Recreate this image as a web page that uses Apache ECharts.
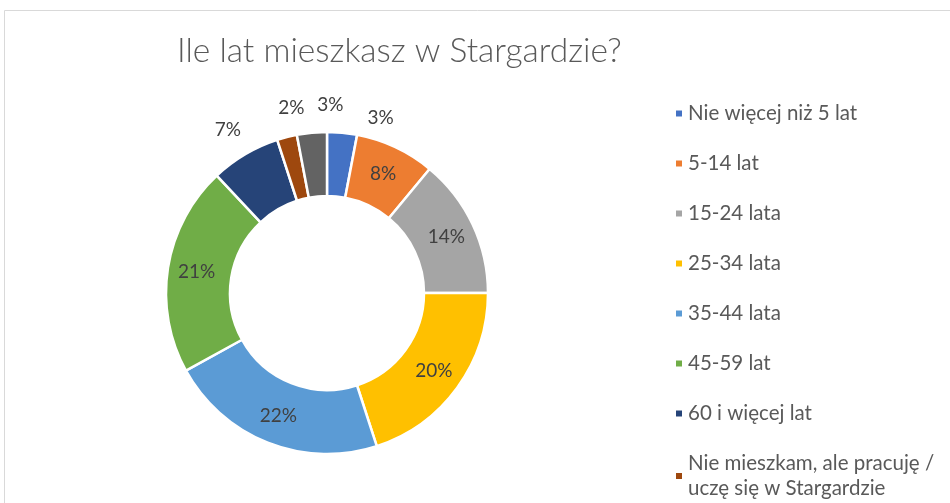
<!DOCTYPE html>
<html>
<head>
<meta charset="utf-8">
<script src="https://cdn.jsdelivr.net/npm/echarts@6/dist/echarts.min.js"></script>
<style>
  html, body { margin: 0; padding: 0; background: #fff; }
  #chart { width: 950px; height: 503px; }
</style>
</head>
<body>
<div id="chart"></div>
<script>
// dane z wykresu
const categories = [
  "Nie więcej niż 5 lat",
  "5-14 lat",
  "15-24 lata",
  "25-34 lata",
  "35-44 lata",
  "45-59 lat",
  "60 i więcej lat",
  "Nie mieszkam, ale pracuję / uczę się w Stargardzie",
  "Inne"
];
const values = [3, 8, 14, 20, 22, 21, 7, 2, 3];
const colors = ["#4472C4", "#ED7D31", "#A5A5A5", "#FFC000", "#5B9BD5", "#70AD47", "#264478", "#9E480E", "#636363"];
// małe wycinki mają etykiety na zewnątrz
const outsideIdx = [0, 6, 7, 8];
// przesunięcia etykiet zewnętrznych (jak w Excelu)
const labelShift = { 0: [19, -1], 6: [8, -12], 7: [26, -16], 8: [38, -14] };

const chart = echarts.init(document.getElementById("chart"), null, { renderer: "canvas" });

const data = categories.map((name, i) => ({
  name: name,
  value: values[i],
  itemStyle: { color: colors[i] },
  label: outsideIdx.includes(i) ? { position: "outside" } : { position: "inside" }
}));

chart.setOption({
  animation: false,
  title: {
    text: "Ile lat mieszkasz w Stargardzie?",
    left: 172,
    top: 29,
    textStyle: { fontFamily: "Lato", fontWeight: 300, fontSize: 33.5, color: "#595959" }
  },
  graphic: [{
    type: "rect",
    shape: { x: 4.5, y: 10.5, width: 1000, height: 600 },
    style: { fill: "none", stroke: "#d9d9d9", lineWidth: 1 },
    silent: true
  }],
  legend: {
    orient: "vertical",
    left: 669,
    top: 96,
    height: 600,
    data: categories.slice(0, 8),
    icon: "rect",
    itemWidth: 8,
    itemHeight: 8,
    itemGap: 25,
    formatter: n => n.replace(" / ", " /\n"),
    textStyle: { fontFamily: "Lato", fontSize: 20.5, color: "#595959", lineHeight: 25 }
  },
  series: [{
    type: "pie",
    center: [327, 293],
    radius: [97, 161],
    startAngle: 90,
    clockwise: true,
    avoidLabelOverlap: false,
    data: data,
    itemStyle: { borderColor: "#fff", borderWidth: 2.5 },
    label: {
      formatter: "{d}%",
      fontFamily: "Lato",
      fontSize: 19,
      color: "#404040"
    },
    labelLine: { show: false, length: 14, length2: 0 },
    labelLayout: p => {
      const s = labelShift[p.dataIndex];
      return s ? { dx: s[0], dy: s[1] } : {};
    },
    emphasis: { disabled: true }
  }]
});
</script>
</body>
</html>
